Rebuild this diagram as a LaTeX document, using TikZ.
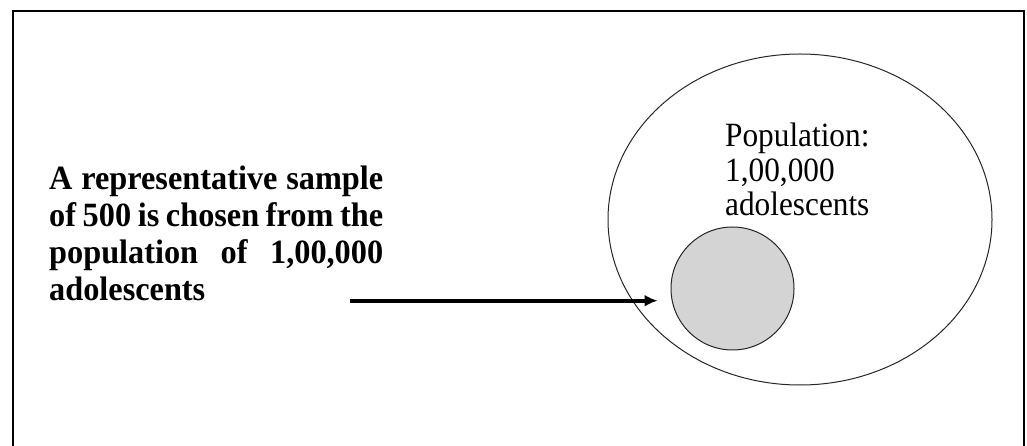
\documentclass[tikz,border=0pt]{standalone}
\usepackage{fontspec}
\setmainfont[FakeStretch=0.92]{Liberation Serif}
\newfontfamily\descfont[FakeStretch=0.95]{Liberation Serif}
\usetikzlibrary{arrows.meta,shapes.geometric}
\begin{document}
\begin{tikzpicture}[x=1bp,y=-1bp,
  frame/.style={line width=2bp, draw=black},
  popell/.style={ellipse, draw=black!85, line width=1bp, minimum width=384bp, minimum height=331bp, inner sep=0},
  samp/.style={circle, draw=black!85, fill=black!17, line width=1bp, minimum size=123bp, inner sep=0},
  boldlab/.style={inner sep=0, align=left, font=\descfont\bfseries\fontsize{34bp}{37bp}\selectfont},
  poplab/.style={inner sep=0, align=left, font=\fontsize{34bp}{34.5bp}\selectfont},
  arr/.style={line width=4bp, -{Latex[length=13bp,width=12bp]}}]
\useasboundingbox (0,0) rectangle (1027,446);
\draw[frame] (13,446) -- (13,11) -- (1024,11) -- (1024,446);
\node[popell] (pop) at (800,219.5) {};
\node[samp] (sample) at (732.5,288.5) {};
\node[poplab, anchor=base west] (poptext) at (725,216) {Population:\\1,00,000\\adolescents};
\node[boldlab, anchor=base west] (desc) at (49,301) {\makebox[334bp][s]{A representative sample}\\\makebox[334bp][s]{of 500 is chosen from the}\\\makebox[334bp][s]{population of 1,00,000}\\adolescents};
\coordinate (arrstart) at (350,300.7);
\draw[arr, shorten >=13bp] (arrstart) -- (arrstart -| sample.west);
\end{tikzpicture}
\end{document}
